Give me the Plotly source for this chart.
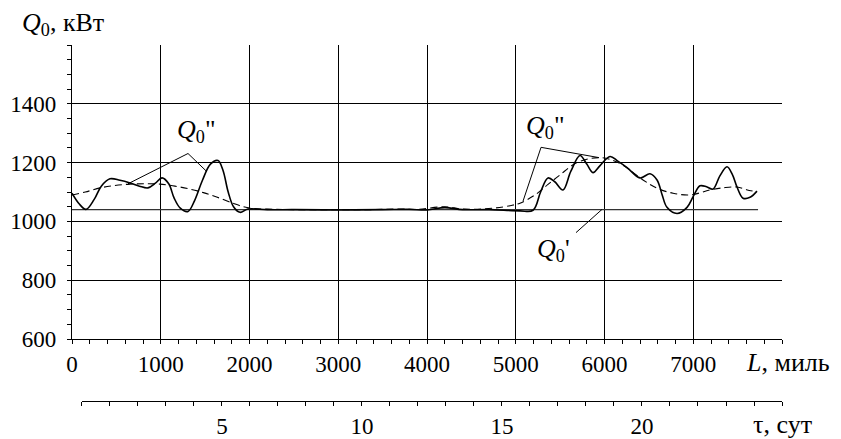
import plotly.graph_objects as go

# Q0 (solid) - actual power along the route
L_q0 = [0, 80, 158, 250, 330, 428, 540, 654, 760, 856, 940, 1014, 1090, 1150, 1220, 1307,
        1380, 1470, 1560, 1645, 1700, 1760, 1820, 1893, 1983, 2200, 2500, 3000, 3500, 3800,
        4000, 4200, 4400, 4700, 5048, 5195, 5280, 5363, 5440, 5532, 5620, 5724, 5800, 5870,
        5950, 6062, 6150, 6254, 6400, 6513, 6592, 6650, 6704, 6817, 6930, 7000, 7076, 7150,
        7223, 7300, 7380, 7440, 7493, 7561, 7640, 7718]
q0 = [1096, 1060, 1041, 1075, 1120, 1145, 1140, 1131, 1120, 1114, 1130, 1148, 1128, 1080,
      1045, 1034, 1070, 1140, 1195, 1207, 1175, 1100, 1050, 1031, 1042, 1040, 1040, 1039,
      1040, 1041, 1039, 1047, 1040, 1040, 1036, 1038, 1100, 1148, 1135, 1107, 1170, 1224,
      1195, 1166, 1190, 1221, 1205, 1183, 1148, 1162, 1141, 1090, 1048, 1027, 1048, 1085,
      1121, 1118, 1110, 1155, 1186, 1160, 1117, 1079, 1082, 1103]

# Q0'' (dashed) - smoothed
L_q2 = [0, 150, 315, 480, 654, 820, 990, 1160, 1330, 1480, 1630, 1815, 1930, 2040, 2300,
        2800, 3300, 3700, 3900, 4200, 4400, 4744, 4960, 5048, 5217, 5360, 5498, 5690, 5950,
        6175, 6434, 6600, 6772, 6963, 7189, 7350, 7493, 7600, 7718]
q2 = [1090, 1100, 1114, 1122, 1127, 1128, 1127, 1120, 1110, 1098, 1083, 1062, 1050, 1044,
      1041, 1040, 1040, 1042, 1041, 1050, 1042, 1045, 1055, 1062, 1090, 1125, 1158, 1200,
      1217, 1197, 1141, 1112, 1096, 1090, 1107, 1115, 1117, 1108, 1100]

# Q0' (constant)
L_q1 = [0, 7730]
q1 = [1040, 1040]

# leader lines for labels
lead1_x = [631, 1307, 1521]
lead1_y = [1128, 1231, 1169]
lead2_x = [5082, 5285, 5938]
lead2_y = [1069, 1252, 1217]
lead3_x = [5679, 5972]
lead3_y = [962, 1041]

x_ticks = [0, 1000, 2000, 3000, 4000, 5000, 6000, 7000, 8000]
x_labels = ["0", "1000", "2000", "3000", "4000", "5000", "6000", "7000", ""]
y_ticks = [600, 800, 1000, 1200, 1400]
tau_ticks = [5, 10, 15, 20]

FONT = "Liberation Serif, Times New Roman, serif"
TICK = dict(family=FONT, size=23, color="black")

fig = go.Figure()
fig.add_trace(go.Scatter(x=L_q1, y=q1, mode="lines", line=dict(color="#333333", width=1.2),
                         hoverinfo="skip"))
fig.add_trace(go.Scatter(x=L_q2, y=q2, mode="lines", line=dict(color="black", width=1.1, dash="7px,4px"),
                         line_shape="spline"))
fig.add_trace(go.Scatter(x=L_q0, y=q0, mode="lines", line=dict(color="black", width=1.6),
                         line_shape="spline"))
for lx, ly in [(lead1_x, lead1_y), (lead2_x, lead2_y), (lead3_x, lead3_y)]:
    fig.add_trace(go.Scatter(x=lx, y=ly, mode="lines", line=dict(color="black", width=1),
                             hoverinfo="skip"))

# dummy trace on the time axis
fig.add_trace(go.Scatter(x=[0, 25], y=[600, 600], xaxis="x2", mode="lines",
                         line=dict(width=0), hoverinfo="skip"))

# page body adds 8px margin, so the figure is 8px smaller and shifted
fig.update_layout(
    width=833, height=431,
    margin=dict(l=64, r=59, t=37, b=38, autoexpand=False),
    paper_bgcolor="white", plot_bgcolor="rgba(0,0,0,0)",
    showlegend=False,
    font=dict(family=FONT, size=23, color="black"),
    xaxis=dict(range=[0, 8000], domain=[0, 1], anchor="y", automargin=False,
               tickmode="array", tickvals=x_ticks, ticktext=x_labels, tickfont=TICK,
               showgrid=True, gridcolor="black", gridwidth=1.3,
               showline=True, linecolor="black", linewidth=1.3,
               ticks="outside", ticklen=4, tickcolor="black", tickwidth=1,
               minor=dict(tickmode="linear", tick0=0, dtick=200, ticks="outside",
                          ticklen=4, tickcolor="black", showgrid=False),
               zeroline=False),
    xaxis2=dict(range=[0, 25], domain=[0.014, 1], anchor="free", position=0, automargin=False,
                tickmode="array", tickvals=tau_ticks, tickfont=TICK,
                showgrid=False, showline=True, linecolor="black", linewidth=1.3,
                ticks="outside", ticklen=4, tickcolor="black",
                minor=dict(tickmode="linear", tick0=0, dtick=1, ticks="outside",
                           ticklen=4, tickcolor="black", showgrid=False),
                zeroline=False),
    yaxis=dict(range=[600, 1600], domain=[0.174, 1], automargin=False,
               tickmode="array", tickvals=y_ticks, tickfont=TICK,
               showgrid=True, gridcolor="black", gridwidth=1.3,
               showline=True, linecolor="black", linewidth=1.3,
               ticks="outside", ticklen=4, tickcolor="black",
               minor=dict(tickmode="linear", tick0=600, dtick=50, ticks="outside",
                          ticklen=4, tickcolor="black", showgrid=False),
               zeroline=False, ticklabelstandoff=6),
)

q_font = dict(family=FONT, size=26, color="black")
fig.add_annotation(x=1408, y=1307, xref="x", yref="y", text="<i>Q</i><sub>0</sub>\"",
                   showarrow=False, font=q_font)
fig.add_annotation(x=5340, y=1321, xref="x", yref="y", text="<i>Q</i><sub>0</sub>\"",
                   showarrow=False, font=q_font)
fig.add_annotation(x=5420, y=903, xref="x", yref="y", text="<i>Q</i><sub>0</sub>'",
                   showarrow=False, font=q_font)

fig.add_annotation(x=-0.073, y=1.06, xref="paper", yref="paper", xanchor="left", yanchor="middle",
                   text="<i>Q</i><sub>0</sub>, кВт", showarrow=False, font=q_font)
fig.add_annotation(x=0.947, y=0.107, xref="paper", yref="paper", xanchor="left", yanchor="middle",
                   text="<i>L</i>, миль", showarrow=False, font=q_font)
fig.add_annotation(x=0.956, y=-0.067, xref="paper", yref="paper", xanchor="left", yanchor="middle",
                   text="τ, сут", showarrow=False, font=q_font)

fig.write_html("out.html")
